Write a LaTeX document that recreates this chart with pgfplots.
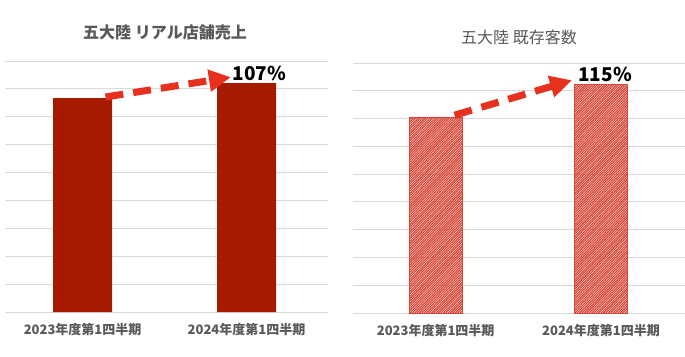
\documentclass[border=0pt]{standalone}
\usepackage{fontspec}
\setmainfont{Noto Sans CJK JP}
\usepackage{pgfplots}
\pgfplotsset{compat=1.18}
\usetikzlibrary{patterns,arrows.meta}
\definecolor{gridgray}{HTML}{D9D9D9}
\definecolor{txtgray}{HTML}{595959}
\definecolor{barred}{HTML}{A61B00}
\definecolor{hatchred}{HTML}{D64535}
\definecolor{arrowred}{HTML}{E8301E}
\pgfdeclarepatternformonly{densehatch}{\pgfqpoint{-0.5pt}{-0.5pt}}{\pgfqpoint{2.9pt}{2.9pt}}{\pgfqpoint{2.4pt}{2.4pt}}{%
  \pgfsetlinewidth{1.1pt}%
  \pgfpathmoveto{\pgfqpoint{-0.2pt}{-0.2pt}}%
  \pgfpathlineto{\pgfqpoint{2.6pt}{2.6pt}}%
  \pgfusepath{stroke}}
\pgfplotsset{common/.style={
  scale only axis, ybar, clip=false,
  axis line style={draw=none},
  ymin=0, ymax=9, ytick={0,...,9}, yticklabels={},
  ymajorgrids, grid style={gridgray, line width=0.9bp},
  major tick length=0pt,
  xtick={0,1},
  xticklabels={2023年度第1四半期,2024年度第1四半期},
  xticklabel style={font=\fontsize{13bp}{15bp}\selectfont\bfseries, text=txtgray, yshift=-8bp},
}}
\begin{document}
\begin{tikzpicture}
\useasboundingbox (0,0) rectangle (685bp,-357bp);
\fill[white] (0,0) rectangle (685bp,-357bp);
\node[font=\fontsize{16bp}{19bp}\selectfont\bfseries, text=txtgray] at (165bp,-32bp) {五大陸 リアル店舗売上};
\node[font=\fontsize{16bp}{19bp}\selectfont, text=txtgray] at (519bp,-37bp) {五大陸 既存客数};
\begin{axis}[common, at={(5bp,-312bp)}, anchor=south west, width=323bp, height=251bp, xmin=-0.473, xmax=1.497]
\addplot[fill=barred, draw=none, bar width=0.36] coordinates {(0,7.67) (1,8.21)};
\draw[arrowred, line width=7bp, dash pattern=on 18bp off 10bp, -{Triangle[length=22bp,width=21bp]}] (axis cs:0.14,7.71) -- (axis cs:0.905,8.42);
\node[font=\fontsize{19bp}{22bp}\selectfont\bfseries, text=black] at (axis cs:1.078,8.57) {107\%};
\end{axis}
\begin{axis}[common, at={(353bp,-313bp)}, anchor=south west, width=332bp, height=250bp, xmin=-0.5, xmax=1.508]
\addplot[pattern=densehatch, pattern color=hatchred, draw=hatchred, line width=0.5bp, bar width=0.32] coordinates {(0,7.03) (1,8.23)};
\draw[arrowred, line width=7bp, dash pattern=on 18bp off 10bp, -{Triangle[length=22bp,width=21bp]}] (axis cs:0.114,7.12) -- (axis cs:0.825,8.38);
\node[font=\fontsize{19bp}{22bp}\selectfont\bfseries, text=black] at (axis cs:1.025,8.6) {115\%};
\end{axis}
\end{tikzpicture}
\end{document}
